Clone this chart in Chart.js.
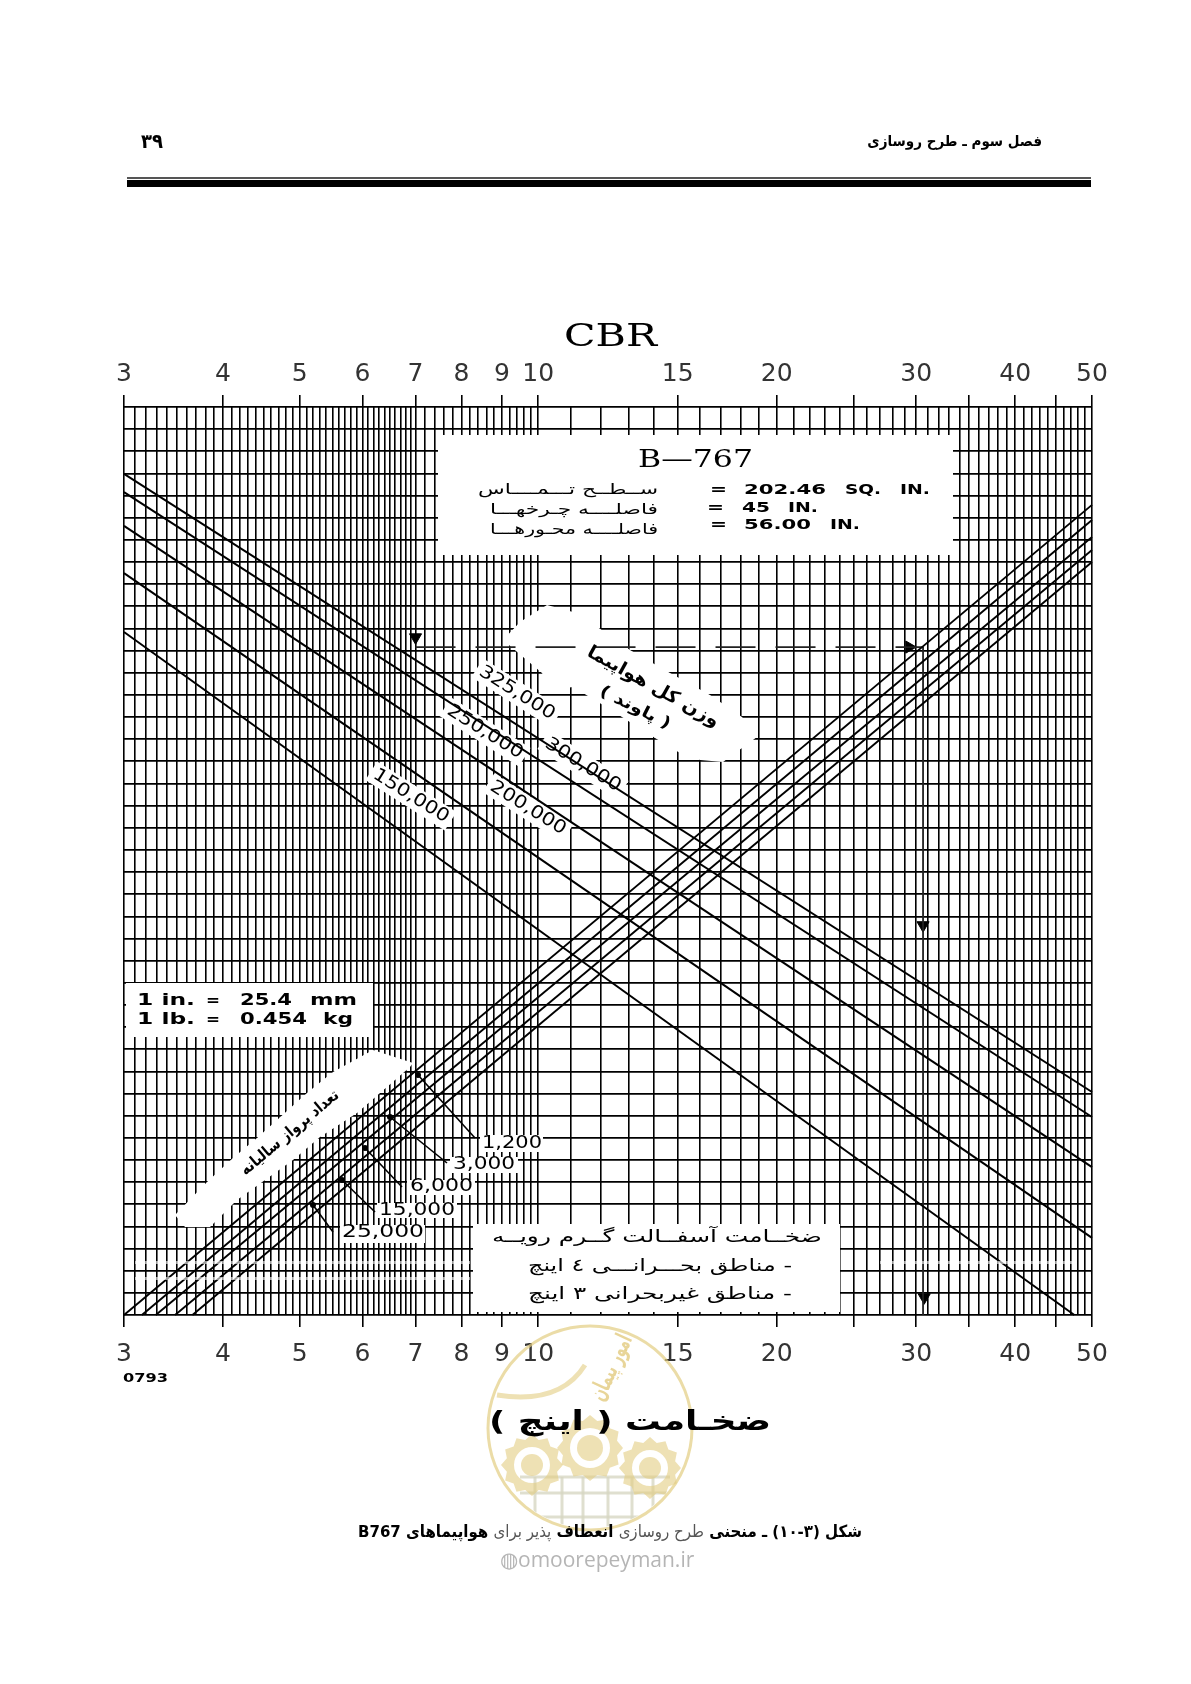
<!DOCTYPE html>
<html lang="fa">
<head>
<meta charset="utf-8">
<title>B767</title>
<script src="https://cdn.jsdelivr.net/npm/chart.js@4/dist/chart.umd.min.js"></script>
<style>
  html, body { margin: 0; padding: 0; background: #fff; }
  #pagina { position: relative; width: 1191px; height: 1684px; overflow: hidden; }
  canvas { position: absolute; left: 0; top: 0; }
  .txt { position: absolute; white-space: nowrap; font-family: "DejaVu Sans"; font-weight: bold; font-stretch: condensed; color: #000; }
  .regua1 { position: absolute; left: 127px; width: 964px; top: 177px; height: 2px; background: #555; }
  .regua2 { position: absolute; left: 127px; width: 964px; top: 180px; height: 7px; background: #000; }
  .claro { color: #555; font-weight: normal; }
</style>
</head>
<body>
<div id="pagina">
  <canvas id="grafico" width="1191" height="1684"></canvas>
  <div class="txt" dir="rtl" style="right:149px;top:132px;font-size:15px;">فصل سوم ـ طرح روسازی</div>
  <div class="txt" style="left:141px;top:129px;font-size:20px;">۳۹</div>
  <div class="regua1"></div>
  <div class="regua2"></div>
  <div class="txt" dir="rtl" style="left:300px;width:620px;top:1521px;font-size:16.7px;text-align:center;">شکل (۳-۱۰) ـ منحنی <span class="claro">طرح روسازی</span> انعطاف <span class="claro">پذیر برای</span> هواپیماهای B767</div>
  <div class="txt" style="left:500px;top:1545px;font-size:21px;font-weight:normal;font-stretch:normal;color:#b5b5b5;font-family:'Open Sans';">◍omoorepeyman.ir</div>
</div>
<script>
// eixo x (CBR / espessura), escala log
const ticksX = [3, 3.1, 3.2, 3.3, 3.4, 3.5, 3.6, 3.7, 3.8, 3.9, 4, 4.1, 4.2, 4.3, 4.4, 4.5, 4.6, 4.7, 4.8, 4.9,
  5, 5.1, 5.2, 5.3, 5.4, 5.5, 5.6, 5.7, 5.8, 5.9, 6, 6.1, 6.2, 6.3, 6.4, 6.5, 6.6, 6.7, 6.8, 6.9,
  7, 7.2, 7.4, 7.6, 7.8, 8, 8.2, 8.4, 8.6, 8.8, 9, 9.2, 9.4, 9.6, 9.8,
  10, 11, 12, 13, 14, 15, 16, 17, 18, 19, 20, 21, 22, 23, 24, 25, 26, 27, 28, 29, 30,
  31, 32, 33, 34, 35, 36, 37, 38, 39, 40, 41, 42, 43, 44, 45, 46, 47, 48, 49, 50];
const ticksMaiores = [3, 4, 5, 6, 7, 8, 9, 10, 15, 20, 25, 30, 35, 40, 45, 50];
const ticksComTexto = [3, 4, 5, 6, 7, 8, 9, 10, 15, 20, 30, 40, 50];
const linhasY = 41;

// curvas de peso (descem), em unidades de linha da grade
const pesos = ["325,000", "300,000", "250,000", "200,000", "150,000"];
const pesoInicioY = [37.98, 37.16, 35.63, 33.5, 30.84];
const pesoFimX = [50, 50, 50, 50, 47.5];
const pesoFimY = [10.07, 8.94, 6.68, 3.48, 0];

// curvas de partidas anuais (sobem)
const partidas = ["1,200", "3,000", "6,000", "15,000", "25,000"];
const partidaInicioX = [3, 3.16, 3.29, 3.48, 3.66];
const partidaFimY = [36.58, 35.9, 35.13, 34.54, 34.0];

// caminho do exemplo tracejado e as setas
const exemploX = [7, 30.6, 30.6];
const exemploY = [30.16, 30.16, 0];
const setaX = [7, 29.4, 30.6, 30.7];
const setaY = [30.6, 30.16, 17.6, 0.8];
const setaRot = [180, 90, 180, 180];

function pontos(xs, ys) {
  return xs.map((x, i) => ({ x: x, y: ys[i] }));
}

const conjuntos = [];
pesos.forEach((nome, i) => {
  conjuntos.push({ label: nome, data: pontos([3, pesoFimX[i]], [pesoInicioY[i], pesoFimY[i]]),
    borderColor: "#000", borderWidth: 2, pointRadius: 0 });
});
partidas.forEach((nome, i) => {
  conjuntos.push({ label: nome, data: pontos([partidaInicioX[i], 50], [0, partidaFimY[i]]),
    borderColor: "#000", borderWidth: 1.9, pointRadius: 0 });
});
conjuntos.push({ label: "exemplo", data: pontos(exemploX, exemploY), borderColor: "#222", borderWidth: 1.8, pointRadius: 0,
  segment: { borderDash: c => c.p0.parsed.x === c.p1.parsed.x ? [68, 52] : [40, 20] } });
conjuntos.push({ label: "setas", data: pontos(setaX, setaY), showLine: false, pointStyle: "triangle", pointRadius: 7,
  pointRotation: setaRot, backgroundColor: "#000", borderColor: "#000" });

function textoLargo(ctx, texto, x, y, larg, fonte, rtl) {
  ctx.save();
  ctx.font = fonte;
  ctx.fillStyle = "#000";
  ctx.textBaseline = "middle";
  ctx.textAlign = "left";
  ctx.direction = rtl ? "rtl" : "ltr";
  const m = ctx.measureText(texto).width;
  ctx.translate(x, y);
  ctx.scale(larg / m, 1);
  ctx.fillText(texto, 0, 0);
  ctx.restore();
}

function textoGirado(ctx, texto, cx, cy, larg, ang, fonte, rtl, cor) {
  ctx.save();
  ctx.font = fonte;
  ctx.fillStyle = cor || "#000";
  ctx.textBaseline = "middle";
  ctx.textAlign = "center";
  ctx.direction = rtl ? "rtl" : "ltr";
  const m = ctx.measureText(texto).width;
  ctx.translate(cx, cy);
  ctx.rotate(ang * Math.PI / 180);
  ctx.scale(larg / m, 1);
  ctx.fillText(texto, 0, 0);
  ctx.restore();
}

function poligono(ctx, pts) {
  ctx.beginPath();
  pts.forEach((p, i) => i ? ctx.lineTo(p[0], p[1]) : ctx.moveTo(p[0], p[1]));
  ctx.closePath();
  ctx.fill();
}

function engrenagem(ctx, cx, cy, r) {
  ctx.beginPath();
  for (let i = 0; i < 24; i++) {
    const a = i * Math.PI / 12;
    const rr = i % 2 ? r : r + 5;
    ctx.lineTo(cx + rr * Math.cos(a), cy + rr * Math.sin(a));
  }
  ctx.closePath();
  ctx.moveTo(cx + r - 8, cy);
  ctx.arc(cx, cy, r - 8, 0, Math.PI * 2, true);
  ctx.fill();
  ctx.beginPath();
  ctx.arc(cx, cy, r - 15, 0, Math.PI * 2);
  ctx.fill();
}

// faixas brancas que cobrem a grade atras dos textos
const mascaras = {
  id: "mascaras",
  beforeDatasetsDraw(chart) {
    const ctx = chart.ctx;
    ctx.save();
    ctx.fillStyle = "#fff";
    [[438, 435, 515, 120], [126, 983, 247, 54], [473, 1224, 367, 88],
     [480, 1135, 63, 17], [450, 1157, 68, 16], [407, 1180, 68, 15], [377, 1203, 80, 15], [340, 1225, 85, 18]
    ].forEach(r => ctx.fillRect(r[0], r[1], r[2], r[3]));
    poligono(ctx, [[520, 622], [547, 605], [573, 612], [602, 630], [630, 650], [670, 673], [710, 695], [742, 717], [757, 737],
      [723, 762], [700, 760], [680, 753], [655, 738], [603, 705], [573, 687], [550, 690], [542, 673], [503, 640]]);
    poligono(ctx, [[175, 1215], [207, 1182], [233, 1158], [257, 1138], [307, 1093], [333, 1072], [373, 1050], [413, 1063],
      [410, 1067], [357, 1113], [320, 1137], [293, 1160], [237, 1200], [210, 1227], [185, 1227]]);
    [[517, 693], [485, 732], [583, 765], [528, 808], [411, 796]].forEach(c => {
      ctx.save();
      ctx.translate(c[0], c[1]);
      ctx.rotate(32.5 * Math.PI / 180);
      ctx.fillRect(-47, -11, 94, 22);
      ctx.restore();
    });
    ctx.restore();
  },
  afterDatasetsDraw(chart) {
    const ctx = chart.ctx;
    // riscos claros do scan
    ctx.save();
    ctx.fillStyle = "rgba(255,255,255,0.6)";
    [[135, 1261, 335, 3], [135, 1277, 335, 3], [880, 1261, 195, 3]].forEach(r => ctx.fillRect(r[0], r[1], r[2], r[3]));
    ctx.restore();

    // setas finas dos rotulos de partidas
    ctx.save();
    ctx.strokeStyle = "#000";
    ctx.lineWidth = 1.6;
    [[475, 1138, 418, 1075], [447, 1163, 390, 1117], [402, 1187, 365, 1148], [375, 1212, 342, 1180], [333, 1232, 313, 1205]].forEach(s => {
      ctx.beginPath();
      ctx.moveTo(s[0], s[1]);
      ctx.lineTo(s[2], s[3]);
      ctx.stroke();
      ctx.beginPath();
      ctx.arc(s[2], s[3], 3, 0, Math.PI * 2);
      ctx.fillStyle = "#000";
      ctx.fill();
    });
    ctx.restore();

    // caixa B-767
    textoLargo(ctx, "B—767", 638, 460, 115, "25px 'DejaVu Serif'");
    const f1 = "bold 14px 'DejaVu Sans'";
    [["=", 710, 490, 17], ["202.46", 744, 490, 82], ["SQ.", 845, 490, 36], ["IN.", 900, 490, 30],
     ["=", 707, 508, 17], ["45", 742, 508, 28], ["IN.", 788, 508, 30],
     ["=", 710, 525, 17], ["56.00", 744, 525, 67], ["IN.", 830, 525, 30]
    ].forEach(t => textoLargo(ctx, t[0], t[1], t[2], t[3], f1));
    const f2 = "15px 'DejaVu Sans'";
    textoLargo(ctx, "ســطــح تـــمــــاس", 478, 490, 180, f2, true);
    textoLargo(ctx, "فاصلــــه چـرخهـــا", 490, 510, 168, f2, true);
    textoLargo(ctx, "فاصلــــه محـورهـــا", 490, 530, 168, f2, true);

    // caixa de unidades
    const f3 = "bold 15px 'DejaVu Sans'";
    [["1 in.", 137, 1001, 58], ["=", 206, 1001, 14], ["25.4", 240, 1001, 52], ["mm", 310, 1001, 47],
     ["1 lb.", 137, 1020, 58], ["=", 206, 1020, 14], ["0.454", 240, 1020, 67], ["kg", 323, 1020, 30]
    ].forEach(t => textoLargo(ctx, t[0], t[1], t[2], t[3], f3));

    // caixa de baixo
    const f4 = "17px 'DejaVu Sans'";
    textoLargo(ctx, "ضخــامت آسفــالت گــرم رویــه", 492, 1238, 330, f4, true);
    textoLargo(ctx, "- مناطق بحـــرانـــی ٤ اینچ", 528, 1267, 264, f4, true);
    textoLargo(ctx, "- مناطق غیربحرانی ٣ اینچ", 528, 1295, 264, f4, true);

    // rotulos das curvas
    const f5 = "17px 'DejaVu Sans'";
    [[partidas[0], 482, 1144, 60], [partidas[1], 453, 1165, 62], [partidas[2], 410, 1187, 63], [partidas[3], 379, 1211, 76], [partidas[4], 342, 1233, 82]]
      .forEach(t => textoLargo(ctx, t[0], t[1], t[2], t[3], f5));
    [[pesos[0], 517, 693], [pesos[2], 485, 732], [pesos[1], 583, 765], [pesos[3], 528, 808], [pesos[4], 411, 796]]
      .forEach(t => textoGirado(ctx, t[0], t[1], t[2], 86, 32, "18px 'DejaVu Sans'"));
    textoGirado(ctx, "وزن کل هواپیما", 653, 687, 148, 29, "bold 18px 'DejaVu Sans'", true);
    textoGirado(ctx, "( پاوند )", 635, 708, 77, 27, "bold 16px 'DejaVu Sans'", true);
    textoGirado(ctx, "تعداد پرواز سالیانه", 290, 1133, 123, -40, "bold 16px 'DejaVu Sans'", true);
  },
  afterDraw(chart) {
    const ctx = chart.ctx;
    // marca d'agua
    ctx.save();
    ctx.strokeStyle = "rgba(226,205,130,0.7)";
    ctx.fillStyle = "rgba(226,205,130,0.6)";
    ctx.lineWidth = 3;
    ctx.beginPath();
    ctx.arc(590, 1428, 102, 0, Math.PI * 2);
    ctx.stroke();
    ctx.save();
    ctx.beginPath();
    ctx.arc(590, 1428, 100, 0, Math.PI * 2);
    ctx.clip();
    ctx.strokeStyle = "rgba(215,215,195,0.8)";
    [535, 562, 583, 608, 632, 653].forEach(x => {
      ctx.beginPath(); ctx.moveTo(x, 1477); ctx.lineTo(x, 1535); ctx.stroke();
    });
    [1477, 1493, 1517].forEach(y => {
      ctx.beginPath(); ctx.moveTo(520, y); ctx.lineTo(670, y); ctx.stroke();
    });
    ctx.restore();
    engrenagem(ctx, 532, 1465, 26);
    engrenagem(ctx, 590, 1448, 28);
    engrenagem(ctx, 650, 1468, 26);
    ctx.lineWidth = 5;
    ctx.strokeStyle = "rgba(226,205,130,0.6)";
    ctx.beginPath();
    ctx.moveTo(497, 1395);
    ctx.quadraticCurveTo(560, 1405, 585, 1365);
    ctx.stroke();
    textoGirado(ctx, "امور پیمان", 612, 1368, 70, -65, "bold 24px 'DejaVu Sans'", true, "rgba(222,195,110,0.7)");
    ctx.restore();

    // textos de fora da grade
    textoLargo(ctx, "CBR", 564, 338, 93, "31px 'DejaVu Serif'");
    textoLargo(ctx, "0793", 123, 1379, 45, "bold 13px 'DejaVu Sans'");
    textoLargo(ctx, "ضخـامت ( اینچ )", 489, 1423, 282, "bold 27px 'DejaVu Sans'", true);
  }
};

function eixoX(posicao, altura, recuo, comGrade) {
  return {
    type: "logarithmic",
    position: posicao,
    min: 3,
    max: 50,
    afterBuildTicks: eixo => { eixo.ticks = ticksX.map(v => ({ value: v })); },
    afterFit: eixo => { eixo.height = altura; },
    border: { display: false },
    grid: {
      display: true,
      drawOnChartArea: comGrade,
      color: "#000",
      lineWidth: 1.6,
      tickLength: 12,
      tickWidth: 1.6,
      tickColor: c => ticksMaiores.includes(c.tick.value) ? "#000" : "rgba(0,0,0,0)"
    },
    ticks: {
      autoSkip: false,
      maxRotation: 0,
      minRotation: 0,
      padding: recuo,
      color: "#333",
      font: { family: "DejaVu Sans", size: 25 },
      callback: v => ticksComTexto.includes(v) ? String(v) : ""
    }
  };
}

new Chart(document.getElementById("grafico").getContext("2d"), {
  type: "scatter",
  data: { datasets: conjuntos },
  options: {
    responsive: false,
    animation: false,
    events: [],
    layout: { padding: { left: 124, right: 99, top: 0, bottom: 0 } },
    elements: { line: { tension: 0, fill: false } },
    datasets: { scatter: { showLine: true, clip: false } },
    plugins: { legend: { display: false }, tooltip: { enabled: false }, title: { display: false } },
    scales: {
      x: eixoX("bottom", 369, 12, true),
      x2: eixoX("top", 407, 6, false),
      y: {
        type: "linear",
        min: 0,
        max: linhasY,
        afterFit: eixo => { eixo.width = 0; },
        border: { display: false },
        grid: { color: "#000", lineWidth: 1.7, drawTicks: false },
        ticks: { display: false, stepSize: 1 }
      }
    }
  },
  plugins: [mascaras]
});
</script>
</body>
</html>
